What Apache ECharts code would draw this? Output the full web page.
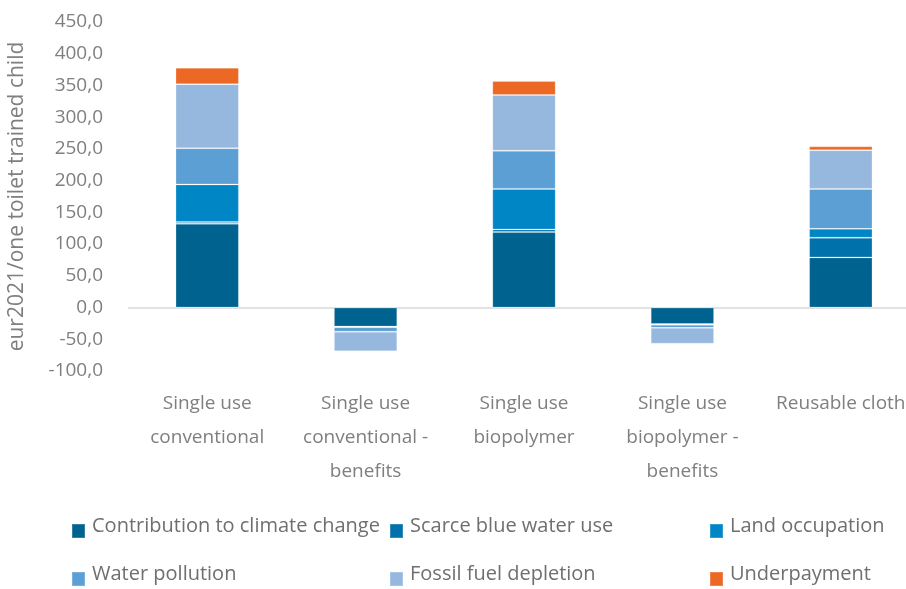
<!DOCTYPE html>
<html>
<head>
<meta charset="utf-8">
<script src="https://cdn.jsdelivr.net/npm/echarts@6/dist/echarts.min.js"></script>
<style>
  html, body { margin: 0; padding: 0; background: #ffffff; }
  #chart { width: 906px; height: 589px; }
</style>
</head>
<body>
<div id="chart"></div>
<script>
// Categories and external-cost components per diapering option (EUR 2021 per toilet-trained child)
var categories = [
  'Single use\nconventional',
  'Single use\nconventional -\nbenefits',
  'Single use\nbiopolymer',
  'Single use\nbiopolymer -\nbenefits',
  'Reusable cloth'
];
var climateChange   = [132, -30, 119, -26, 79];
var scarceBlueWater = [3, -0.5, 4, -0.5, 31];
var landOccupation  = [59, -0.5, 64, -0.5, 14];
var waterPollution  = [57, -7, 60, -5, 63];
var fossilFuel      = [101, -31, 88, -25, 61];
var underpayment    = [26, -0.5, 22, -0.5, 6];

var seriesNames = [
  'Contribution to climate change',
  'Scarce blue water use',
  'Land occupation',
  'Water pollution',
  'Fossil fuel depletion',
  'Underpayment'
];
var seriesData = [climateChange, scarceBlueWater, landOccupation, waterPollution, fossilFuel, underpayment];
var seriesColors = ['#00628f', '#0071ab', '#0085c5', '#5b9fd5', '#96b8df', '#ec6825'];

var yMin = -100, yMax = 450, yStep = 50;

var fontFamily = '"Open Sans", "Noto Sans", sans-serif';
var textGray = '#7f7f7f';

var chart = echarts.init(document.getElementById('chart'), null, { renderer: 'canvas' });

var series = seriesNames.map(function (name, i) {
  var s = {
    name: name,
    type: 'bar',
    stack: 'total',
    barWidth: '40%',
    data: seriesData[i],
    itemStyle: {
      color: seriesColors[i],
      borderColor: 'rgba(255,255,255,0.2)',
      borderWidth: 1
    },
    emphasis: { disabled: true }
  };
  if (i === 0) {
    s.markLine = {
      silent: true,
      symbol: 'none',
      label: { show: false },
      lineStyle: { color: '#d9d9d9', width: 1.5, type: 'solid' },
      data: [{ yAxis: 0 }],
      z: 1
    };
  }
  return s;
});

// Legend laid out as a 3 x 2 grid: one legend component per entry
var legendCols = [66, 384, 704];
var legendRows = [511, 559];
var legends = seriesNames.map(function (name, i) {
  var col = i % 3, row = Math.floor(i / 3);
  return {
    left: legendCols[col],
    top: legendRows[row],
    itemWidth: 13,
    itemHeight: 14,
    itemGap: 0,
    icon: 'rect',
    data: [name],
    selectedMode: false,
    formatter: '{t|{name}}',
    textStyle: {
      color: '#6f6f6f',
      fontSize: 20,
      fontFamily: fontFamily,
      rich: {
        t: {
          color: '#6f6f6f',
          fontSize: 20,
          lineHeight: 20,
          fontFamily: fontFamily,
          padding: [0, 0, 10, 2]
        }
      }
    }
  };
});

chart.setOption({
  animation: false,
  backgroundColor: '#ffffff',
  textStyle: { fontFamily: fontFamily },
  grid: { left: 128, right: -14, top: 22, bottom: 218, outerBoundsMode: 'none', containLabel: false },
  legend: legends,
  xAxis: {
    type: 'category',
    data: categories,
    position: 'bottom',
    axisLine: { show: false },
    axisTick: { show: false },
    axisLabel: {
      color: textGray,
      fontSize: 19,
      lineHeight: 34,
      margin: 16,
      interval: 0,
      fontFamily: fontFamily
    }
  },
  yAxis: {
    type: 'value',
    min: yMin,
    max: yMax,
    interval: yStep,
    axisLine: { show: false },
    axisTick: { show: false },
    splitLine: { show: false },
    axisLabel: {
      color: textGray,
      fontSize: 19,
      margin: 25,
      fontFamily: fontFamily,
      formatter: function (v) { return v.toFixed(1).replace('.', ','); }
    },
    name: 'eur2021/one toilet trained child',
    nameLocation: 'middle',
    nameGap: 100,
    nameTextStyle: { color: textGray, fontSize: 21, fontFamily: fontFamily }
  },
  series: series
});
</script>
</body>
</html>
